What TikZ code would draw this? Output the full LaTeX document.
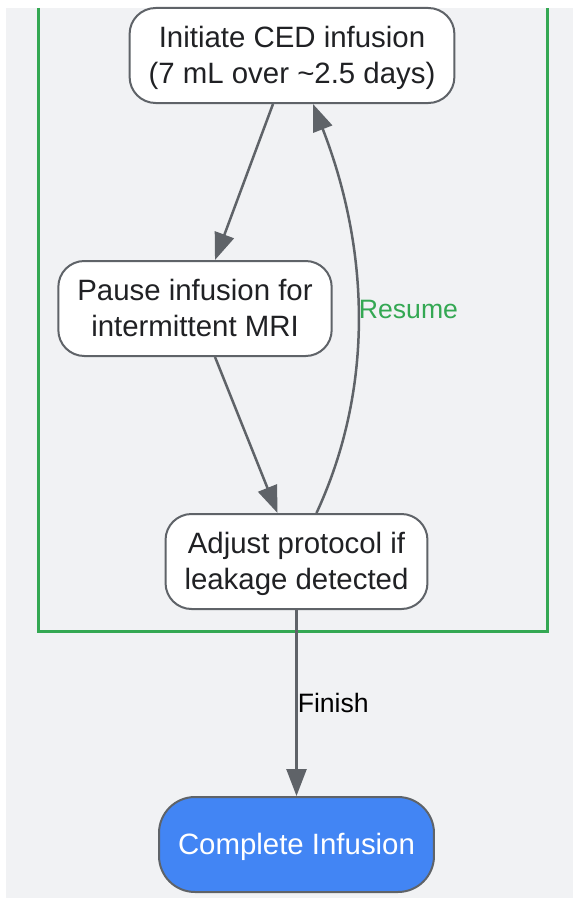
\documentclass[tikz,border=0pt]{standalone}
\usepackage{fontspec}
\setmainfont{Liberation Sans}
\usetikzlibrary{arrows.meta}
\definecolor{pagegray}{HTML}{F1F2F4}
\definecolor{framegreen}{HTML}{34A853}
\definecolor{edgegray}{HTML}{5F6368}
\definecolor{doneblue}{HTML}{4285F4}
\definecolor{inkdark}{HTML}{202124}

\begin{document}
\begin{tikzpicture}[x=1pt, y=-1pt,
  stage/.style={draw=edgegray, line width=2pt, fill=white, rounded corners=26pt,
    align=center, minimum height=95pt, inner xsep=19pt, text=inkdark,
    text height=64pt, text depth=8pt, font=\fontsize{29.4}{36}\selectfont},
  finalstage/.style={stage, fill=doneblue, text=white, rounded corners=36pt, text height=28pt},
  link/.style={draw=edgegray, line width=2.5pt, -{Triangle[length=27pt,width=20pt]}},
  tag/.style={font=\fontsize{26.6}{30}\selectfont, inner xsep=0pt, inner ysep=1pt}]
\useasboundingbox (0,0) rectangle (573,899);
% Canvas and loop frame
\fill[pagegray] (6,8) rectangle (573,898);
\draw[framegreen, line width=3pt] (38,8) -- (38,631) -- (547,631) -- (547,8);

% Steps
\node[stage] (initiate) at (292,55.5) {Initiate CED infusion\\(7 mL over \textasciitilde2.5 days)};
\node[stage] (pause) at (195,308.5) {Pause infusion for\\intermittent MRI};
\node[stage] (adjust) at (296.5,561.5) {Adjust protocol if\\leakage detected};
\node[finalstage] (final) at (296.5,844.5) {Complete Infusion};

% Connectors
\draw[link] ([xshift=-19pt]initiate.south) -- ([xshift=20pt]pause.north);
\draw[link] ([xshift=20pt]pause.south) -- ([xshift=-19pt]adjust.north);
\draw[link] ([xshift=20pt]adjust.north) .. controls (378,380) and (366,240) ..
  node[tag, right, text=framegreen] (resumelabel) {Resume} ([xshift=21pt]initiate.south);
\draw[link] (adjust) -- node[tag, right, text=black] (finishlabel) {Finish} (final);
\end{tikzpicture}
\end{document}
